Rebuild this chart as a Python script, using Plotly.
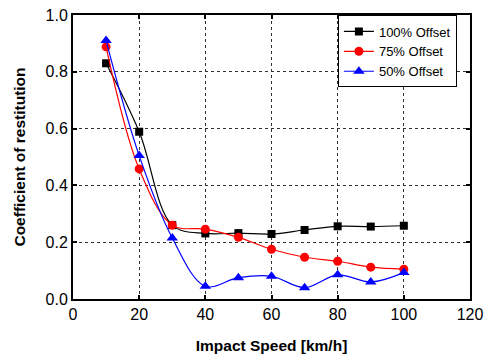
import plotly.graph_objects as go

speed = [10, 20, 30, 40, 50, 60, 70, 80, 90, 100]
offset_100 = [0.83, 0.589, 0.26, 0.231, 0.232, 0.229, 0.243, 0.256, 0.255, 0.258]
offset_75 = [0.888, 0.458, 0.26, 0.246, 0.217, 0.175, 0.147, 0.133, 0.112, 0.105]
offset_50 = [0.91, 0.505, 0.215, 0.045, 0.075, 0.08, 0.04, 0.085, 0.06, 0.093]

series = [
    ("100% Offset", offset_100, "black", "square", 8),
    ("75% Offset", offset_75, "red", "circle", 9),
    ("50% Offset", offset_50, "blue", "triangle-up", 10),
]

fig = go.Figure()
for name, vals, col, sym, sz in series:
    fig.add_trace(go.Scatter(
        x=speed, y=vals, name=name, mode="lines+markers",
        line=dict(color=col, width=1.2, shape="spline", smoothing=1.0),
        marker=dict(symbol=sym, size=sz, color=col),
        cliponaxis=False,
    ))

font = "Liberation Sans, Arial, sans-serif"
axis_common = dict(
    showline=True, linecolor="black", linewidth=2, mirror="ticks",
    ticks="inside", ticklen=4, tickwidth=2, tickcolor="black",
    showgrid=True, gridcolor="#333333", gridwidth=1, griddash="dot",
    zeroline=False, automargin=False, ticklabeloverflow="allow",
    tickfont=dict(family=font, size=16, color="black"),
)
fig.update_xaxes(range=[0, 120], dtick=20, tick0=0,
                 title=dict(text="<b>Impact Speed [km/h]</b>", font=dict(family=font, size=15.5, color="black"), standoff=18),
                 **axis_common)
fig.update_yaxes(range=[0, 1.0], dtick=0.2, tick0=0, tickformat=".1f",
                 title=dict(text="<b>Coefficient of restitution</b>", font=dict(family=font, size=15.5, color="black"), standoff=16),
                 **axis_common)

fig.update_layout(
    width=488, height=357,
    margin=dict(l=73, r=18, t=15, b=58),
    plot_bgcolor="white", paper_bgcolor="white",
    showlegend=True,
    legend=dict(x=0.967, y=0.8715, xanchor="right", yanchor="middle",
                bordercolor="black", borderwidth=1, bgcolor="white",
                font=dict(family=font, size=13, color="black"),
                tracegroupgap=0, itemwidth=30),
    font=dict(family=font, color="black"),
)

fig.write_html("out.html", config={"displayModeBar": False},
               post_script="document.body.style.margin='0px';")
